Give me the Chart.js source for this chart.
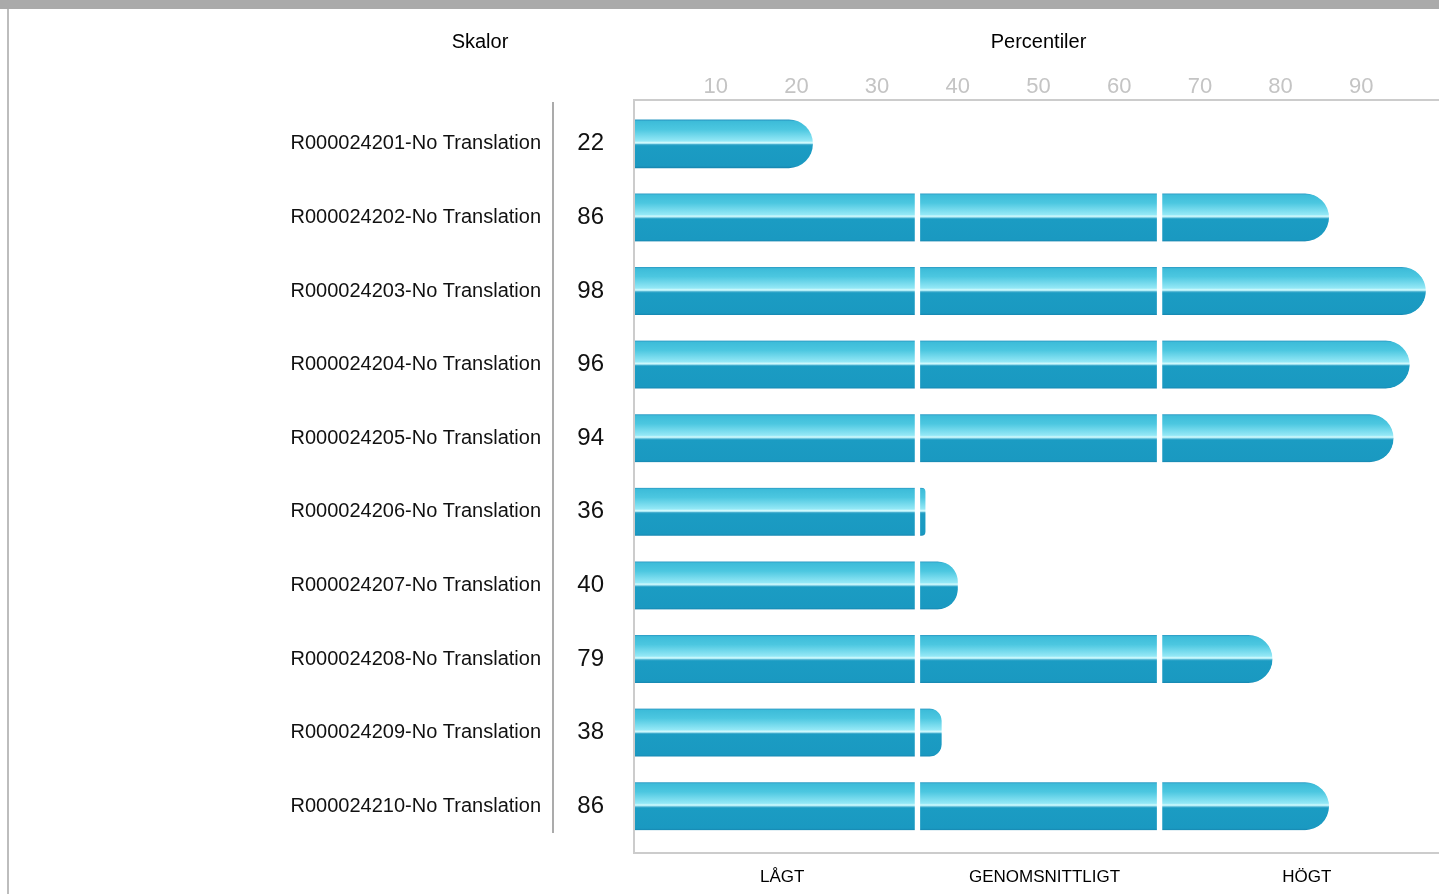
<!DOCTYPE html>
<html><head><meta charset="utf-8">
<script src="https://cdn.jsdelivr.net/npm/chart.js@4/dist/chart.umd.min.js"></script>
<style>html,body{margin:0;padding:0;overflow:hidden;background:#fff}canvas{display:block}</style>
</head><body>
<canvas id="c" width="1449" height="894"></canvas>
<script>
const scaleNames = [
  'R000024201-No Translation','R000024202-No Translation','R000024203-No Translation',
  'R000024204-No Translation','R000024205-No Translation','R000024206-No Translation',
  'R000024207-No Translation','R000024208-No Translation','R000024209-No Translation',
  'R000024210-No Translation'
];
const percentiles = [22, 86, 98, 96, 94, 36, 40, 79, 38, 86];
const bandLabels = ['LÅGT', 'GENOMSNITTLIGT', 'HÖGT'];
const bandEdges = [0, 35, 65, 100];
const xTickLabels = [10, 20, 30, 40, 50, 60, 70, 80, 90];
const titleLeft = 'Skalor';
const titleRight = 'Percentiler';

Chart.defaults.font.family = "'Liberation Sans', Arial, sans-serif";

const BAR_H = 48;
const gradCache = {};
function barGradient(ctx) {
  const chart = ctx.chart;
  if (!chart.chartArea || ctx.dataIndex === undefined) return '#1a9cc4';
  const yc = chart.scales.y.getPixelForValue(ctx.dataIndex);
  const key = Math.round(yc);
  if (gradCache[key]) return gradCache[key];
  const g = chart.ctx.createLinearGradient(0, yc - BAR_H / 2, 0, yc + BAR_H / 2);
  g.addColorStop(0, '#2a97c2');
  g.addColorStop(0.035, '#3dbcd9');
  g.addColorStop(0.2, '#4cc7e0');
  g.addColorStop(0.44, '#94e8f6');
  g.addColorStop(0.475, '#d2fafd');
  g.addColorStop(0.495, '#a6e6f2');
  g.addColorStop(0.515, '#45aecf');
  g.addColorStop(0.54, '#1b9cc3');
  g.addColorStop(0.96, '#1a99c1');
  g.addColorStop(1, '#1786b0');
  gradCache[key] = g;
  return g;
}

const datasets = [0, 1, 2].map(k => ({
  label: bandLabels[k],
  data: percentiles.map(v => {
    const part = Math.min(Math.max(v - bandEdges[k], 0), bandEdges[k + 1] - bandEdges[k]);
    return part > 0 ? part : null;
  }),
  backgroundColor: barGradient,
  borderColor: '#ffffff',
  borderSkipped: false,
  borderWidth: (ctx) => {
    const v = percentiles[ctx.dataIndex];
    return {
      left: k > 0 ? 3 : 0,
      right: v > bandEdges[k + 1] ? 3 : 0,
      top: 0, bottom: 0
    };
  },
  borderRadius: (ctx) => {
    const v = percentiles[ctx.dataIndex];
    const last = v > bandEdges[k] && v <= bandEdges[k + 1];
    return last ? {topLeft: 0, bottomLeft: 0, topRight: 24, bottomRight: 24} : 0;
  },
  barThickness: BAR_H
}));

const decor = {
  id: 'decor',
  beforeDraw(chart) {
    const c = chart.ctx;
    c.save();
    c.fillStyle = '#aaaaaa';
    c.fillRect(0, 0, chart.width, 9);
    c.fillStyle = '#bdbdbd';
    c.fillRect(7, 9, 2, chart.height - 9);
    c.restore();
  },
  beforeDatasetsDraw(chart) {
    const {ctx, chartArea: a} = chart;
    ctx.save();
    ctx.strokeStyle = '#cccccc';
    ctx.lineWidth = 2;
    ctx.beginPath();
    ctx.moveTo(chart.width, a.top - 7);
    ctx.lineTo(a.left - 1, a.top - 7);
    ctx.lineTo(a.left - 1, a.bottom + 10);
    ctx.lineTo(chart.width, a.bottom + 10);
    ctx.stroke();
    const sx = chart.scales.y.right;
    ctx.strokeStyle = '#ababab';
    ctx.beginPath();
    ctx.moveTo(sx, a.top - 5);
    ctx.lineTo(sx, a.bottom - 10);
    ctx.stroke();
    ctx.restore();
  },
  afterDraw(chart) {
    const {ctx} = chart;
    const xs = chart.scales.x;
    ctx.save();
    ctx.fillStyle = '#000';
    ctx.textAlign = 'center';
    ctx.textBaseline = 'middle';
    ctx.font = "20px 'Liberation Sans', Arial, sans-serif";
    ctx.fillText(titleLeft, 480, 42);
    ctx.fillText(titleRight, xs.getPixelForValue((bandEdges[0] + bandEdges[3]) / 2), 42);
    ctx.font = "17px 'Liberation Sans', Arial, sans-serif";
    bandLabels.forEach((t, i) => {
      const mid = (bandEdges[i] + bandEdges[i + 1]) / 2;
      ctx.fillText(t, xs.getPixelForValue(mid) + 6, 877);
    });
    ctx.restore();
  }
};

new Chart(document.getElementById('c'), {
  type: 'bar',
  data: {labels: scaleNames, datasets},
  plugins: [decor],
  options: {
    indexAxis: 'y',
    responsive: false,
    animation: false,
    devicePixelRatio: 1,
    layout: {padding: {left: 10, right: 4, top: 0, bottom: 51}},
    plugins: {legend: {display: false}, tooltip: {enabled: false}},
    scales: {
      x: {
        type: 'linear', position: 'top', min: 0, max: 100, stacked: true,
        grid: {display: false, drawTicks: false}, border: {display: false},
        ticks: {
          stepSize: 10, padding: 7, color: '#c4c4c4',
          font: {size: 22},
          callback: (v) => xTickLabels.includes(v) ? String(v) : ''
        },
        afterFit: (s) => { s.height = 107; }
      },
      y: {
        type: 'category', position: 'left', stacked: true, weight: 1,
        grid: {display: false, drawTicks: false}, border: {display: false},
        ticks: {padding: 12, color: '#111', font: {size: 20}, autoSkip: false},
        afterFit: (s) => { s.width = 543; }
      },
      y2: {
        type: 'category', labels: percentiles.map(String), position: 'left', weight: 0, offset: true,
        grid: {display: false, drawTicks: false}, border: {display: false},
        ticks: {padding: 31, color: '#111', font: {size: 24}, autoSkip: false},
        afterFit: (s) => { s.width = 82; }
      }
    }
  }
});
</script>
</body></html>
